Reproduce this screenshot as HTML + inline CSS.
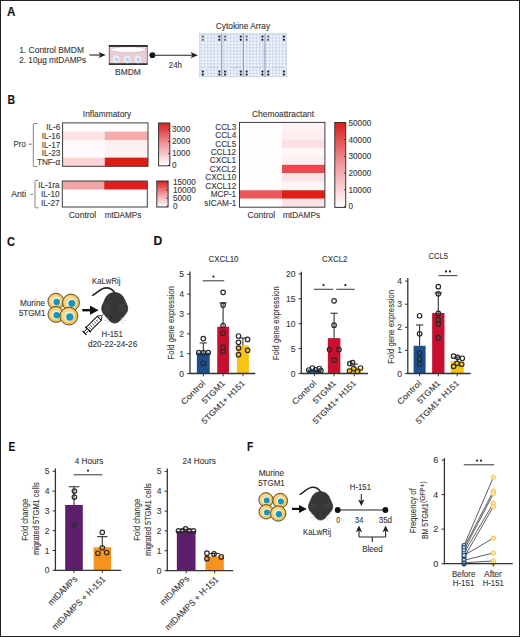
<!DOCTYPE html>
<html><head><meta charset="utf-8"><style>
html,body{margin:0;padding:0;background:#fff;}
body{width:520px;height:637px;overflow:hidden;}
svg{display:block;font-family:"Liberation Sans",sans-serif;}
text{stroke:#3a3a3a;stroke-width:0.12px;}
</style></head><body>
<svg width="520" height="637" viewBox="0 0 520 637">
<rect x="0" y="0" width="520" height="637" fill="#fff"/>
<text x="6.90" y="15.50" font-size="12.0" text-anchor="start" fill="#111" font-weight="bold" textLength="8.4" lengthAdjust="spacingAndGlyphs">A</text>
<text x="7.60" y="103.60" font-size="12.0" text-anchor="start" fill="#111" font-weight="bold" textLength="7.6" lengthAdjust="spacingAndGlyphs">B</text>
<text x="7.10" y="245.90" font-size="12.0" text-anchor="start" fill="#111" font-weight="bold" textLength="8.0" lengthAdjust="spacingAndGlyphs">C</text>
<text x="153.40" y="245.40" font-size="12.0" text-anchor="start" fill="#111" font-weight="bold" textLength="8.8" lengthAdjust="spacingAndGlyphs">D</text>
<text x="8.40" y="450.60" font-size="12.0" text-anchor="start" fill="#111" font-weight="bold" textLength="6.9" lengthAdjust="spacingAndGlyphs">E</text>
<text x="246.90" y="450.50" font-size="12.0" text-anchor="start" fill="#111" font-weight="bold" textLength="6.3" lengthAdjust="spacingAndGlyphs">F</text>
<text x="19.20" y="52.70" font-size="8.2" text-anchor="start" fill="#3a3a3a" font-weight="normal" textLength="64.8" lengthAdjust="spacingAndGlyphs">1. Control BMDM</text>
<text x="19.20" y="63.20" font-size="8.2" text-anchor="start" fill="#3a3a3a" font-weight="normal" textLength="67.0" lengthAdjust="spacingAndGlyphs">2. 10µg mtDAMPs</text>
<line x1="89.50" y1="55.00" x2="101.00" y2="55.00" stroke="#222" stroke-width="1.1"/>
<path d="M105.8,55 L98.6,51.9 L100.3,55 L98.6,58.1 Z" fill="#222"/>
<g>
<rect x="109.2" y="45.5" width="38.0" height="19" fill="#f3d5d8" stroke="#333" stroke-width="0.7"/>
<path d="M110,50 L110,62.6 L146.4,62.6 L146.4,50 Q128.2,55.5 110,50 Z" fill="#eecbce"/>
<ellipse cx="128.2" cy="49.6" rx="17.8" ry="2.9" fill="#fcfcfe" stroke="#c7a9ad" stroke-width="0.5"/>
<rect x="108.9" y="45.2" width="38.6" height="1.6" fill="#1a1a1a"/>
<rect x="108.9" y="63.3" width="38.6" height="1.4" fill="#1a1a1a"/>
<circle cx="116.2" cy="59" r="3.9" fill="#e6edf8" stroke="#c5d0e3" stroke-width="0.5"/>
<circle cx="127.1" cy="59.2" r="3.9" fill="#e6edf8" stroke="#c5d0e3" stroke-width="0.5"/>
<circle cx="137.9" cy="59.2" r="3.9" fill="#e6edf8" stroke="#c5d0e3" stroke-width="0.5"/>
<circle cx="116.6" cy="59.3" r="1.5" fill="#b9c8df"/>
<circle cx="127.5" cy="59.5" r="1.5" fill="#b9c8df"/>
<circle cx="138.3" cy="59.5" r="1.5" fill="#b9c8df"/>
</g>
<text x="115.00" y="74.70" font-size="8.2" text-anchor="start" fill="#3a3a3a" font-weight="normal" textLength="25.8" lengthAdjust="spacingAndGlyphs">BMDM</text>
<circle cx="152.40" cy="55.20" r="2.90" fill="#111" stroke="none" stroke-width="1.0"/>
<line x1="152.40" y1="55.20" x2="193.00" y2="55.20" stroke="#222" stroke-width="1.1"/>
<path d="M197.9,55.2 L190.6,52.1 L192.3,55.2 L190.6,58.3 Z" fill="#222"/>
<text x="168.80" y="68.10" font-size="8.2" text-anchor="start" fill="#3a3a3a" font-weight="normal" textLength="13.2" lengthAdjust="spacingAndGlyphs">24h</text>
<text x="215.80" y="28.70" font-size="8.2" text-anchor="start" fill="#3a3a3a" font-weight="normal" textLength="54.4" lengthAdjust="spacingAndGlyphs">Cytokine Array</text>
<defs>
<pattern id="grid" x="201.27" y="35.0" width="3.25" height="3.2" patternUnits="userSpaceOnUse">
<rect width="3.25" height="3.2" fill="#cddbee"/><circle cx="1.62" cy="1.6" r="1.12" fill="#f7faff"/>
</pattern>
</defs>
<rect x="199.50" y="33.50" width="22.30" height="43.30" fill="url(#grid)"/>
<circle cx="202.80" cy="36.60" r="1.15" fill="#55657e" stroke="none" stroke-width="1.0"/>
<circle cx="202.80" cy="39.80" r="1.15" fill="#55657e" stroke="none" stroke-width="1.0"/>
<circle cx="219.30" cy="36.60" r="1.15" fill="#1d2536" stroke="none" stroke-width="1.0"/>
<circle cx="219.30" cy="39.80" r="1.15" fill="#1d2536" stroke="none" stroke-width="1.0"/>
<circle cx="202.80" cy="71.60" r="1.15" fill="#1d2536" stroke="none" stroke-width="1.0"/>
<circle cx="202.80" cy="74.60" r="1.15" fill="#1d2536" stroke="none" stroke-width="1.0"/>
<circle cx="219.30" cy="71.60" r="1.15" fill="#1d2536" stroke="none" stroke-width="1.0"/>
<circle cx="219.30" cy="74.60" r="1.15" fill="#1d2536" stroke="none" stroke-width="1.0"/>
<rect x="208.50" y="67.00" width="10.00" height="1.00" fill="#c0ccdc"/>
<rect x="221.80" y="33.50" width="21.50" height="43.30" fill="url(#grid)"/>
<circle cx="225.10" cy="36.60" r="1.15" fill="#55657e" stroke="none" stroke-width="1.0"/>
<circle cx="225.10" cy="39.80" r="1.15" fill="#55657e" stroke="none" stroke-width="1.0"/>
<circle cx="240.80" cy="36.60" r="1.15" fill="#1d2536" stroke="none" stroke-width="1.0"/>
<circle cx="240.80" cy="39.80" r="1.15" fill="#1d2536" stroke="none" stroke-width="1.0"/>
<circle cx="225.10" cy="71.60" r="1.15" fill="#1d2536" stroke="none" stroke-width="1.0"/>
<circle cx="225.10" cy="74.60" r="1.15" fill="#1d2536" stroke="none" stroke-width="1.0"/>
<circle cx="240.80" cy="71.60" r="1.15" fill="#1d2536" stroke="none" stroke-width="1.0"/>
<circle cx="240.80" cy="74.60" r="1.15" fill="#1d2536" stroke="none" stroke-width="1.0"/>
<rect x="230.80" y="67.00" width="10.00" height="1.00" fill="#c0ccdc"/>
<rect x="243.30" y="33.50" width="21.60" height="43.30" fill="url(#grid)"/>
<circle cx="246.60" cy="36.60" r="1.15" fill="#55657e" stroke="none" stroke-width="1.0"/>
<circle cx="246.60" cy="39.80" r="1.15" fill="#55657e" stroke="none" stroke-width="1.0"/>
<circle cx="262.40" cy="36.60" r="1.15" fill="#1d2536" stroke="none" stroke-width="1.0"/>
<circle cx="262.40" cy="39.80" r="1.15" fill="#1d2536" stroke="none" stroke-width="1.0"/>
<circle cx="246.60" cy="71.60" r="1.15" fill="#1d2536" stroke="none" stroke-width="1.0"/>
<circle cx="246.60" cy="74.60" r="1.15" fill="#1d2536" stroke="none" stroke-width="1.0"/>
<circle cx="262.40" cy="71.60" r="1.15" fill="#1d2536" stroke="none" stroke-width="1.0"/>
<circle cx="262.40" cy="74.60" r="1.15" fill="#1d2536" stroke="none" stroke-width="1.0"/>
<rect x="252.30" y="67.00" width="10.00" height="1.00" fill="#c0ccdc"/>
<rect x="264.90" y="33.50" width="21.50" height="43.30" fill="url(#grid)"/>
<circle cx="268.20" cy="36.60" r="1.15" fill="#55657e" stroke="none" stroke-width="1.0"/>
<circle cx="268.20" cy="39.80" r="1.15" fill="#55657e" stroke="none" stroke-width="1.0"/>
<circle cx="283.90" cy="36.60" r="1.15" fill="#1d2536" stroke="none" stroke-width="1.0"/>
<circle cx="283.90" cy="39.80" r="1.15" fill="#1d2536" stroke="none" stroke-width="1.0"/>
<circle cx="268.20" cy="71.60" r="1.15" fill="#1d2536" stroke="none" stroke-width="1.0"/>
<circle cx="268.20" cy="74.60" r="1.15" fill="#1d2536" stroke="none" stroke-width="1.0"/>
<circle cx="283.90" cy="71.60" r="1.15" fill="#1d2536" stroke="none" stroke-width="1.0"/>
<circle cx="283.90" cy="74.60" r="1.15" fill="#1d2536" stroke="none" stroke-width="1.0"/>
<rect x="273.90" y="67.00" width="10.00" height="1.00" fill="#c0ccdc"/>
<rect x="199.50" y="33.50" width="86.90" height="43.30" fill="none" stroke="#c2cad6" stroke-width="0.6"/>
<line x1="221.80" y1="33.50" x2="221.80" y2="76.80" stroke="#55606f" stroke-width="0.6"/>
<line x1="243.30" y1="33.50" x2="243.30" y2="76.80" stroke="#55606f" stroke-width="0.6"/>
<line x1="264.90" y1="33.50" x2="264.90" y2="76.80" stroke="#55606f" stroke-width="0.6"/>
<text x="82.80" y="116.60" font-size="8.2" text-anchor="start" fill="#3a3a3a" font-weight="normal" textLength="48.5" lengthAdjust="spacingAndGlyphs">Inflammatory</text>
<text x="252.00" y="116.80" font-size="8.2" text-anchor="start" fill="#3a3a3a" font-weight="normal" textLength="62.1" lengthAdjust="spacingAndGlyphs">Chemoattractant</text>
<rect x="62.60" y="122.90" width="42.20" height="8.73" fill="#ffffff"/>
<rect x="104.80" y="122.90" width="43.20" height="8.73" fill="#fffbfb"/>
<rect x="62.60" y="131.58" width="42.20" height="8.73" fill="#fde1e4"/>
<rect x="104.80" y="131.58" width="43.20" height="8.73" fill="#f5aaae"/>
<rect x="62.60" y="140.26" width="42.20" height="8.73" fill="#fff9f9"/>
<rect x="104.80" y="140.26" width="43.20" height="8.73" fill="#fdf1f2"/>
<rect x="62.60" y="148.94" width="42.20" height="8.73" fill="#fffafa"/>
<rect x="104.80" y="148.94" width="43.20" height="8.73" fill="#fdf2f3"/>
<rect x="62.60" y="157.62" width="42.20" height="8.73" fill="#fcd3d7"/>
<rect x="104.80" y="157.62" width="43.20" height="8.73" fill="#e01b14"/>
<rect x="62.60" y="122.90" width="85.40" height="43.40" fill="none" stroke="#3c3c3c" stroke-width="1.0"/>
<text x="60.30" y="130.14" font-size="8.2" text-anchor="end" fill="#3a3a3a" font-weight="normal">IL-6</text>
<text x="60.30" y="138.82" font-size="8.2" text-anchor="end" fill="#3a3a3a" font-weight="normal">IL-16</text>
<text x="60.30" y="147.50" font-size="8.2" text-anchor="end" fill="#3a3a3a" font-weight="normal">IL-17</text>
<text x="60.30" y="156.18" font-size="8.2" text-anchor="end" fill="#3a3a3a" font-weight="normal">IL-23</text>
<text x="60.30" y="164.86" font-size="8.2" text-anchor="end" fill="#3a3a3a" font-weight="normal">TNF-α</text>
<text x="13.60" y="146.90" font-size="8.2" text-anchor="start" fill="#3a3a3a" font-weight="normal" textLength="12.2" lengthAdjust="spacingAndGlyphs">Pro</text>
<line x1="28.60" y1="144.20" x2="31.80" y2="144.20" stroke="#555" stroke-width="0.8"/>
<path d="M37.5,123.6 L34,123.6 Q33.3,123.6 33.3,124.6 L33.3,165.6 Q33.3,166.6 34,166.6 L37.5,166.6" fill="none" stroke="#666" stroke-width="0.8"/>
<rect x="62.30" y="181.00" width="41.90" height="8.72" fill="#f2a4a7"/>
<rect x="104.20" y="181.00" width="43.10" height="8.72" fill="#e11e1b"/>
<rect x="62.30" y="189.67" width="41.90" height="8.72" fill="#ffffff"/>
<rect x="104.20" y="189.67" width="43.10" height="8.72" fill="#ffffff"/>
<rect x="62.30" y="198.33" width="41.90" height="8.72" fill="#ffffff"/>
<rect x="104.20" y="198.33" width="43.10" height="8.72" fill="#ffffff"/>
<rect x="62.30" y="181.00" width="85.00" height="26.00" fill="none" stroke="#3c3c3c" stroke-width="1.0"/>
<text x="59.60" y="188.23" font-size="8.2" text-anchor="end" fill="#3a3a3a" font-weight="normal">IL-1ra</text>
<text x="59.60" y="196.90" font-size="8.2" text-anchor="end" fill="#3a3a3a" font-weight="normal">IL-10</text>
<text x="59.60" y="205.57" font-size="8.2" text-anchor="end" fill="#3a3a3a" font-weight="normal">IL-27</text>
<text x="11.20" y="197.10" font-size="8.2" text-anchor="start" fill="#3a3a3a" font-weight="normal" textLength="15.0" lengthAdjust="spacingAndGlyphs">Anti</text>
<line x1="30.60" y1="194.30" x2="33.20" y2="194.30" stroke="#555" stroke-width="0.8"/>
<path d="M38.6,180.4 L35.7,180.4 Q35,180.4 35,181.4 L35,206.8 Q35,207.8 35.7,207.8 L38.6,207.8" fill="none" stroke="#666" stroke-width="0.8"/>
<text x="68.70" y="218.30" font-size="8.2" text-anchor="start" fill="#3a3a3a" font-weight="normal" textLength="27.6" lengthAdjust="spacingAndGlyphs">Control</text>
<text x="104.70" y="218.30" font-size="8.2" text-anchor="start" fill="#3a3a3a" font-weight="normal" textLength="36.6" lengthAdjust="spacingAndGlyphs">mtDAMPs</text>
<rect x="239.50" y="122.40" width="42.50" height="8.53" fill="#fffdfd"/>
<rect x="282.00" y="122.40" width="42.90" height="8.53" fill="#fdf3f4"/>
<rect x="239.50" y="130.88" width="42.50" height="8.53" fill="#fffdfd"/>
<rect x="282.00" y="130.88" width="42.90" height="8.53" fill="#fdeff0"/>
<rect x="239.50" y="139.36" width="42.50" height="8.53" fill="#fffcfc"/>
<rect x="282.00" y="139.36" width="42.90" height="8.53" fill="#fbdfe2"/>
<rect x="239.50" y="147.84" width="42.50" height="8.53" fill="#fffdfd"/>
<rect x="282.00" y="147.84" width="42.90" height="8.53" fill="#fef7f7"/>
<rect x="239.50" y="156.32" width="42.50" height="8.53" fill="#fffdfd"/>
<rect x="282.00" y="156.32" width="42.90" height="8.53" fill="#fdf0f1"/>
<rect x="239.50" y="164.80" width="42.50" height="8.53" fill="#fffcfc"/>
<rect x="282.00" y="164.80" width="42.90" height="8.53" fill="#e94a4f"/>
<rect x="239.50" y="173.28" width="42.50" height="8.53" fill="#fffdfd"/>
<rect x="282.00" y="173.28" width="42.90" height="8.53" fill="#fbe3e5"/>
<rect x="239.50" y="181.76" width="42.50" height="8.53" fill="#fffdfd"/>
<rect x="282.00" y="181.76" width="42.90" height="8.53" fill="#fef6f6"/>
<rect x="239.50" y="190.24" width="42.50" height="8.53" fill="#eb595d"/>
<rect x="282.00" y="190.24" width="42.90" height="8.53" fill="#df1f16"/>
<rect x="239.50" y="198.72" width="42.50" height="8.53" fill="#ffffff"/>
<rect x="282.00" y="198.72" width="42.90" height="8.53" fill="#fbe2e5"/>
<rect x="239.50" y="122.40" width="85.40" height="84.80" fill="none" stroke="#3c3c3c" stroke-width="1.0"/>
<text x="236.20" y="129.54" font-size="8.2" text-anchor="end" fill="#3a3a3a" font-weight="normal">CCL3</text>
<text x="236.20" y="138.02" font-size="8.2" text-anchor="end" fill="#3a3a3a" font-weight="normal">CCL4</text>
<text x="236.20" y="146.50" font-size="8.2" text-anchor="end" fill="#3a3a3a" font-weight="normal">CCL5</text>
<text x="236.20" y="154.98" font-size="8.2" text-anchor="end" fill="#3a3a3a" font-weight="normal">CCL12</text>
<text x="236.20" y="163.46" font-size="8.2" text-anchor="end" fill="#3a3a3a" font-weight="normal">CXCL1</text>
<text x="236.20" y="171.94" font-size="8.2" text-anchor="end" fill="#3a3a3a" font-weight="normal">CXCL2</text>
<text x="236.20" y="180.42" font-size="8.2" text-anchor="end" fill="#3a3a3a" font-weight="normal">CXCL10</text>
<text x="236.20" y="188.90" font-size="8.2" text-anchor="end" fill="#3a3a3a" font-weight="normal">CXCL12</text>
<text x="236.20" y="197.38" font-size="8.2" text-anchor="end" fill="#3a3a3a" font-weight="normal">MCP-1</text>
<text x="236.20" y="205.86" font-size="8.2" text-anchor="end" fill="#3a3a3a" font-weight="normal">sICAM-1</text>
<text x="247.60" y="218.30" font-size="8.2" text-anchor="start" fill="#3a3a3a" font-weight="normal" textLength="27.6" lengthAdjust="spacingAndGlyphs">Control</text>
<text x="283.00" y="218.30" font-size="8.2" text-anchor="start" fill="#3a3a3a" font-weight="normal" textLength="37.0" lengthAdjust="spacingAndGlyphs">mtDAMPs</text>
<defs><linearGradient id="cb158" x1="0" y1="1" x2="0" y2="0"><stop offset="0" stop-color="#ffffff"/><stop offset="0.5" stop-color="#f09aa0"/><stop offset="1" stop-color="#d9201c"/></linearGradient></defs>
<rect x="158.60" y="123.00" width="11.20" height="42.80" fill="url(#cb158)" stroke="#333" stroke-width="1"/>
<line x1="168.00" y1="165.30" x2="169.80" y2="165.30" stroke="#333" stroke-width="0.9"/>
<text x="172.00" y="168.20" font-size="8.2" text-anchor="start" fill="#3a3a3a" font-weight="normal">0</text>
<line x1="168.00" y1="153.40" x2="169.80" y2="153.40" stroke="#333" stroke-width="0.9"/>
<text x="172.00" y="156.30" font-size="8.2" text-anchor="start" fill="#3a3a3a" font-weight="normal">1000</text>
<line x1="168.00" y1="141.40" x2="169.80" y2="141.40" stroke="#333" stroke-width="0.9"/>
<text x="172.00" y="144.30" font-size="8.2" text-anchor="start" fill="#3a3a3a" font-weight="normal">2000</text>
<line x1="168.00" y1="129.40" x2="169.80" y2="129.40" stroke="#333" stroke-width="0.9"/>
<text x="172.00" y="132.30" font-size="8.2" text-anchor="start" fill="#3a3a3a" font-weight="normal">3000</text>
<defs><linearGradient id="cb156" x1="0" y1="1" x2="0" y2="0"><stop offset="0" stop-color="#ffffff"/><stop offset="0.5" stop-color="#f09aa0"/><stop offset="1" stop-color="#d9201c"/></linearGradient></defs>
<rect x="156.80" y="181.00" width="11.30" height="26.00" fill="url(#cb156)" stroke="#333" stroke-width="1"/>
<line x1="166.30" y1="206.20" x2="168.10" y2="206.20" stroke="#333" stroke-width="0.9"/>
<text x="173.00" y="209.10" font-size="8.2" text-anchor="start" fill="#3a3a3a" font-weight="normal">0</text>
<line x1="166.30" y1="198.20" x2="168.10" y2="198.20" stroke="#333" stroke-width="0.9"/>
<text x="173.00" y="201.10" font-size="8.2" text-anchor="start" fill="#3a3a3a" font-weight="normal">5000</text>
<line x1="166.30" y1="190.20" x2="168.10" y2="190.20" stroke="#333" stroke-width="0.9"/>
<text x="173.00" y="193.10" font-size="8.2" text-anchor="start" fill="#3a3a3a" font-weight="normal">10000</text>
<line x1="166.30" y1="182.20" x2="168.10" y2="182.20" stroke="#333" stroke-width="0.9"/>
<text x="173.00" y="185.10" font-size="8.2" text-anchor="start" fill="#3a3a3a" font-weight="normal">15000</text>
<defs><linearGradient id="cb334" x1="0" y1="1" x2="0" y2="0"><stop offset="0" stop-color="#ffffff"/><stop offset="0.5" stop-color="#f09aa0"/><stop offset="1" stop-color="#d9201c"/></linearGradient></defs>
<rect x="334.80" y="122.50" width="10.90" height="84.90" fill="url(#cb334)" stroke="#333" stroke-width="1"/>
<line x1="343.90" y1="206.30" x2="345.70" y2="206.30" stroke="#333" stroke-width="0.9"/>
<text x="348.50" y="209.20" font-size="8.2" text-anchor="start" fill="#3a3a3a" font-weight="normal">0</text>
<line x1="343.90" y1="189.80" x2="345.70" y2="189.80" stroke="#333" stroke-width="0.9"/>
<text x="348.50" y="192.70" font-size="8.2" text-anchor="start" fill="#3a3a3a" font-weight="normal">10000</text>
<line x1="343.90" y1="173.10" x2="345.70" y2="173.10" stroke="#333" stroke-width="0.9"/>
<text x="348.50" y="176.00" font-size="8.2" text-anchor="start" fill="#3a3a3a" font-weight="normal">20000</text>
<line x1="343.90" y1="156.40" x2="345.70" y2="156.40" stroke="#333" stroke-width="0.9"/>
<text x="348.50" y="159.30" font-size="8.2" text-anchor="start" fill="#3a3a3a" font-weight="normal">30000</text>
<line x1="343.90" y1="139.60" x2="345.70" y2="139.60" stroke="#333" stroke-width="0.9"/>
<text x="348.50" y="142.50" font-size="8.2" text-anchor="start" fill="#3a3a3a" font-weight="normal">40000</text>
<line x1="343.90" y1="122.90" x2="345.70" y2="122.90" stroke="#333" stroke-width="0.9"/>
<text x="348.50" y="125.80" font-size="8.2" text-anchor="start" fill="#3a3a3a" font-weight="normal">50000</text>
<text x="20.00" y="305.70" font-size="8.2" text-anchor="start" fill="#3a3a3a" font-weight="normal" textLength="25.0" lengthAdjust="spacingAndGlyphs">Murine</text>
<text x="18.90" y="315.80" font-size="8.2" text-anchor="start" fill="#3a3a3a" font-weight="normal" textLength="26.5" lengthAdjust="spacingAndGlyphs">5TGM1</text>
<circle cx="55.9" cy="301.3" r="8.0" fill="#f3bf55" stroke="#4d432c" stroke-width="0.9"/>
<circle cx="55.50" cy="300.90" r="6.08" fill="#f9d98f"/>
<circle cx="56.30" cy="301.70" r="4.08" fill="#eef4ea"/>
<circle cx="56.70" cy="302.10" r="3.28" fill="#1796bd"/>
<circle cx="71.0" cy="302.6" r="8.5" fill="#f3bf55" stroke="#4d432c" stroke-width="0.9"/>
<circle cx="70.58" cy="302.18" r="6.46" fill="#f9d98f"/>
<circle cx="71.42" cy="303.03" r="4.33" fill="#eef4ea"/>
<circle cx="71.85" cy="303.45" r="3.48" fill="#1796bd"/>
<circle cx="56.0" cy="314.4" r="8.0" fill="#f3bf55" stroke="#4d432c" stroke-width="0.9"/>
<circle cx="55.60" cy="314.00" r="6.08" fill="#f9d98f"/>
<circle cx="56.40" cy="314.80" r="4.08" fill="#eef4ea"/>
<circle cx="56.80" cy="315.20" r="3.28" fill="#1796bd"/>
<circle cx="68.9" cy="316.1" r="8.9" fill="#f3bf55" stroke="#4d432c" stroke-width="0.9"/>
<circle cx="68.46" cy="315.66" r="6.76" fill="#f9d98f"/>
<circle cx="69.34" cy="316.55" r="4.54" fill="#eef4ea"/>
<circle cx="69.79" cy="316.99" r="3.65" fill="#1796bd"/>
<line x1="82.30" y1="310.20" x2="92.00" y2="310.20" stroke="#111" stroke-width="2.4"/>
<path d="M90,305.6 L98.6,310.2 L90,314.8 Z" fill="#111"/>
<text x="92.10" y="284.20" font-size="8.2" text-anchor="start" fill="#3a3a3a" font-weight="normal" textLength="28.3" lengthAdjust="spacingAndGlyphs">KaLwRij</text>
<g transform="translate(114.7,292.6) scale(1.0)">
<path d="M-22.1,2.8 C-18,0.8 -14,-4.6 -8.5,-4.7 C-4.5,-4.7 -1.6,-2.6 0.4,0.8" fill="none" stroke="#262626" stroke-width="1.6" stroke-linecap="round"/>
<path d="M0,0 C5,0 8.5,3 10,7.5 C11.5,11 13.2,13.5 13,16.5 C12.8,19 11.5,21 10,22.3 C8,24.5 5.5,28.5 2.5,30 C1.5,30.6 -1.5,30.6 -2.5,30 C-5.5,28.5 -8,24.5 -10,22.3 C-11.5,21 -12.8,19 -13,16.5 C-13.2,13.5 -11.5,11 -10,7.5 C-8.5,3 -5,0 0,0 Z" fill="#373737" stroke="#242424" stroke-width="0.7"/>
<ellipse cx="-7.4" cy="15.6" rx="3.6" ry="4.2" fill="#3d3d3d"/><ellipse cx="7.3" cy="15.4" rx="3.6" ry="4.2" fill="#3d3d3d"/>
<circle cx="-3.4" cy="24.2" r="0.8" fill="#1a1a1a"/><circle cx="3.2" cy="24.2" r="0.8" fill="#1a1a1a"/>
<path d="M-6,26 L-10.5,24.3 M-6,27 L-11,28 M-5.5,28 L-9,31.5 M6,26 L10.5,24.3 M6,27 L11,28 M5.5,28 L9,31.5" stroke="#b5b5b5" stroke-width="0.5"/>
</g>
<g transform="translate(103.2,314.3) rotate(135)">
<line x1="0" y1="0" x2="3" y2="0" stroke="#1a1a1a" stroke-width="0.9"/>
<path d="M2.6,-0.9 L5.6,-2.8 L5.6,2.8 L2.6,0.9 Z" fill="#fff" stroke="#1a1a1a" stroke-width="0.9" stroke-linejoin="round"/>
<rect x="5.6" y="-2.8" width="15.9" height="5.6" fill="#fff" stroke="#1a1a1a" stroke-width="1.0"/>
<path d="M9,-1.6 v3 M11.6,-1.6 v3 M14.2,-1.6 v3 M16.8,-1.6 v3 M19.2,-1.6 v3" stroke="#1a1a1a" stroke-width="0.75"/>
<line x1="21.5" y1="-3.9" x2="21.5" y2="3.9" stroke="#1a1a1a" stroke-width="1.2"/>
<rect x="21.5" y="-1.2" width="4.9" height="2.4" fill="#fff" stroke="#1a1a1a" stroke-width="0.9"/>
<line x1="26.4" y1="-2.7" x2="26.4" y2="2.7" stroke="#1a1a1a" stroke-width="1.4"/>
</g>
<text x="101.50" y="337.00" font-size="8.2" text-anchor="start" fill="#3a3a3a" font-weight="normal" textLength="21.3" lengthAdjust="spacingAndGlyphs">H-151</text>
<text x="88.00" y="346.50" font-size="8.2" text-anchor="start" fill="#3a3a3a" font-weight="normal" textLength="49.2" lengthAdjust="spacingAndGlyphs">d20-22-24-26</text>
<text x="208.50" y="262.20" font-size="8.2" text-anchor="start" fill="#3a3a3a" font-weight="normal" textLength="30.0" lengthAdjust="spacingAndGlyphs">CXCL10</text>
<rect x="196.85" y="352.67" width="12.90" height="20.83" fill="#1c4f8b"/>
<rect x="217.25" y="326.68" width="11.70" height="46.82" fill="#c8102e"/>
<rect x="236.90" y="345.53" width="12.00" height="27.97" fill="#f6c413"/>
<line x1="203.30" y1="352.67" x2="203.30" y2="342.95" stroke="#333" stroke-width="1.1"/>
<line x1="199.70" y1="342.95" x2="206.90" y2="342.95" stroke="#333" stroke-width="1.1"/>
<line x1="223.10" y1="326.68" x2="223.10" y2="302.87" stroke="#333" stroke-width="1.1"/>
<line x1="219.50" y1="302.87" x2="226.70" y2="302.87" stroke="#333" stroke-width="1.1"/>
<line x1="242.90" y1="345.53" x2="242.90" y2="337.99" stroke="#333" stroke-width="1.1"/>
<line x1="239.30" y1="337.99" x2="246.50" y2="337.99" stroke="#333" stroke-width="1.1"/>
<circle cx="203.30" cy="338.58" r="2.25" fill="none" stroke="#2a2a2a" stroke-width="1.2"/>
<circle cx="198.80" cy="352.67" r="2.25" fill="none" stroke="#2a2a2a" stroke-width="1.2"/>
<circle cx="203.30" cy="352.67" r="2.25" fill="none" stroke="#2a2a2a" stroke-width="1.2"/>
<circle cx="208.20" cy="352.67" r="2.25" fill="none" stroke="#2a2a2a" stroke-width="1.2"/>
<circle cx="203.30" cy="363.38" r="2.25" fill="none" stroke="#2a2a2a" stroke-width="1.2"/>
<circle cx="223.10" cy="292.35" r="2.25" fill="none" stroke="#2a2a2a" stroke-width="1.2"/>
<circle cx="223.10" cy="305.05" r="2.25" fill="none" stroke="#2a2a2a" stroke-width="1.2"/>
<circle cx="223.10" cy="325.49" r="2.25" fill="none" stroke="#2a2a2a" stroke-width="1.2"/>
<circle cx="223.10" cy="333.22" r="2.25" fill="none" stroke="#2a2a2a" stroke-width="1.2"/>
<circle cx="223.10" cy="347.31" r="2.25" fill="none" stroke="#2a2a2a" stroke-width="1.2"/>
<circle cx="223.10" cy="351.48" r="2.25" fill="none" stroke="#2a2a2a" stroke-width="1.2"/>
<circle cx="238.50" cy="336.00" r="2.25" fill="none" stroke="#2a2a2a" stroke-width="1.2"/>
<circle cx="247.60" cy="339.38" r="2.25" fill="none" stroke="#2a2a2a" stroke-width="1.2"/>
<circle cx="238.50" cy="342.35" r="2.25" fill="none" stroke="#2a2a2a" stroke-width="1.2"/>
<circle cx="238.50" cy="348.10" r="2.25" fill="none" stroke="#2a2a2a" stroke-width="1.2"/>
<circle cx="247.60" cy="350.29" r="2.25" fill="none" stroke="#2a2a2a" stroke-width="1.2"/>
<circle cx="238.50" cy="354.65" r="2.25" fill="none" stroke="#2a2a2a" stroke-width="1.2"/>
<line x1="190.00" y1="271.50" x2="190.00" y2="374.10" stroke="#333" stroke-width="1.3"/>
<line x1="189.40" y1="373.50" x2="255.40" y2="373.50" stroke="#333" stroke-width="1.3"/>
<line x1="187.20" y1="373.50" x2="190.00" y2="373.50" stroke="#333" stroke-width="1.0"/>
<text x="184.10" y="376.50" font-size="8.5" text-anchor="end" fill="#3a3a3a" font-weight="normal">0</text>
<line x1="187.20" y1="353.66" x2="190.00" y2="353.66" stroke="#333" stroke-width="1.0"/>
<text x="184.10" y="356.66" font-size="8.5" text-anchor="end" fill="#3a3a3a" font-weight="normal">1</text>
<line x1="187.20" y1="333.82" x2="190.00" y2="333.82" stroke="#333" stroke-width="1.0"/>
<text x="184.10" y="336.82" font-size="8.5" text-anchor="end" fill="#3a3a3a" font-weight="normal">2</text>
<line x1="187.20" y1="313.98" x2="190.00" y2="313.98" stroke="#333" stroke-width="1.0"/>
<text x="184.10" y="316.98" font-size="8.5" text-anchor="end" fill="#3a3a3a" font-weight="normal">3</text>
<line x1="187.20" y1="294.14" x2="190.00" y2="294.14" stroke="#333" stroke-width="1.0"/>
<text x="184.10" y="297.14" font-size="8.5" text-anchor="end" fill="#3a3a3a" font-weight="normal">4</text>
<line x1="187.20" y1="274.30" x2="190.00" y2="274.30" stroke="#333" stroke-width="1.0"/>
<text x="184.10" y="277.30" font-size="8.5" text-anchor="end" fill="#3a3a3a" font-weight="normal">5</text>
<line x1="203.30" y1="373.50" x2="203.30" y2="376.30" stroke="#333" stroke-width="1.0"/>
<line x1="223.10" y1="373.50" x2="223.10" y2="376.30" stroke="#333" stroke-width="1.0"/>
<line x1="242.90" y1="373.50" x2="242.90" y2="376.30" stroke="#333" stroke-width="1.0"/>
<line x1="202.60" y1="280.80" x2="224.20" y2="280.80" stroke="#444" stroke-width="1.1"/>
<circle cx="213.40" cy="276.60" r="1.15" fill="#262626" stroke="none" stroke-width="1.0"/>
<text x="0" y="0" font-size="9.9" text-anchor="middle" fill="#3a3a3a" textLength="73.5" lengthAdjust="spacingAndGlyphs" transform="translate(174.00,322.70) rotate(-90)">Fold gene expression</text>
<text x="0" y="0" font-size="8.2" text-anchor="end" fill="#3a3a3a" textLength="30.5" lengthAdjust="spacingAndGlyphs" transform="translate(205.70,383.80) rotate(-45)">Control</text>
<text x="0" y="0" font-size="8.2" text-anchor="end" fill="#3a3a3a" textLength="29.0" lengthAdjust="spacingAndGlyphs" transform="translate(225.50,383.80) rotate(-45)">5TGM1</text>
<text x="0" y="0" font-size="8.2" text-anchor="end" fill="#3a3a3a" textLength="57.5" lengthAdjust="spacingAndGlyphs" transform="translate(245.40,383.80) rotate(-45)">5TGM1+ H151</text>
<text x="322.00" y="262.20" font-size="8.2" text-anchor="start" fill="#3a3a3a" font-weight="normal" textLength="25.4" lengthAdjust="spacingAndGlyphs">CXCL2</text>
<rect x="307.50" y="369.52" width="13.80" height="3.98" fill="#1c4f8b"/>
<rect x="327.85" y="338.14" width="12.50" height="35.36" fill="#c8102e"/>
<rect x="347.55" y="367.92" width="13.50" height="5.58" fill="#f6c413"/>
<line x1="334.10" y1="338.14" x2="334.10" y2="313.24" stroke="#333" stroke-width="1.1"/>
<line x1="330.50" y1="313.24" x2="337.70" y2="313.24" stroke="#333" stroke-width="1.1"/>
<line x1="354.30" y1="367.92" x2="354.30" y2="364.04" stroke="#333" stroke-width="1.1"/>
<line x1="350.70" y1="364.04" x2="357.90" y2="364.04" stroke="#333" stroke-width="1.1"/>
<circle cx="308.80" cy="370.01" r="2.25" fill="none" stroke="#2a2a2a" stroke-width="1.2"/>
<circle cx="312.40" cy="368.02" r="2.25" fill="none" stroke="#2a2a2a" stroke-width="1.2"/>
<circle cx="315.60" cy="369.76" r="2.25" fill="none" stroke="#2a2a2a" stroke-width="1.2"/>
<circle cx="319.40" cy="368.52" r="2.25" fill="none" stroke="#2a2a2a" stroke-width="1.2"/>
<circle cx="320.90" cy="370.51" r="2.25" fill="none" stroke="#2a2a2a" stroke-width="1.2"/>
<circle cx="334.10" cy="300.79" r="2.25" fill="none" stroke="#2a2a2a" stroke-width="1.2"/>
<circle cx="334.10" cy="325.19" r="2.25" fill="none" stroke="#2a2a2a" stroke-width="1.2"/>
<circle cx="329.50" cy="349.60" r="2.25" fill="none" stroke="#2a2a2a" stroke-width="1.2"/>
<circle cx="339.00" cy="349.60" r="2.25" fill="none" stroke="#2a2a2a" stroke-width="1.2"/>
<circle cx="334.10" cy="360.05" r="2.25" fill="none" stroke="#2a2a2a" stroke-width="1.2"/>
<circle cx="349.80" cy="363.54" r="2.25" fill="none" stroke="#2a2a2a" stroke-width="1.2"/>
<circle cx="352.50" cy="362.54" r="2.25" fill="none" stroke="#2a2a2a" stroke-width="1.2"/>
<circle cx="349.50" cy="371.01" r="2.25" fill="none" stroke="#2a2a2a" stroke-width="1.2"/>
<circle cx="353.80" cy="368.52" r="2.25" fill="none" stroke="#2a2a2a" stroke-width="1.2"/>
<circle cx="357.50" cy="371.51" r="2.25" fill="none" stroke="#2a2a2a" stroke-width="1.2"/>
<circle cx="360.50" cy="368.02" r="2.25" fill="none" stroke="#2a2a2a" stroke-width="1.2"/>
<line x1="301.30" y1="271.80" x2="301.30" y2="374.10" stroke="#333" stroke-width="1.3"/>
<line x1="300.70" y1="373.50" x2="368.00" y2="373.50" stroke="#333" stroke-width="1.3"/>
<line x1="298.50" y1="373.50" x2="301.30" y2="373.50" stroke="#333" stroke-width="1.0"/>
<text x="295.40" y="376.50" font-size="8.5" text-anchor="end" fill="#3a3a3a" font-weight="normal">0</text>
<line x1="298.50" y1="348.60" x2="301.30" y2="348.60" stroke="#333" stroke-width="1.0"/>
<text x="295.40" y="351.60" font-size="8.5" text-anchor="end" fill="#3a3a3a" font-weight="normal">5</text>
<line x1="298.50" y1="323.70" x2="301.30" y2="323.70" stroke="#333" stroke-width="1.0"/>
<text x="295.40" y="326.70" font-size="8.5" text-anchor="end" fill="#3a3a3a" font-weight="normal">10</text>
<line x1="298.50" y1="298.80" x2="301.30" y2="298.80" stroke="#333" stroke-width="1.0"/>
<text x="295.40" y="301.80" font-size="8.5" text-anchor="end" fill="#3a3a3a" font-weight="normal">15</text>
<line x1="298.50" y1="273.90" x2="301.30" y2="273.90" stroke="#333" stroke-width="1.0"/>
<text x="295.40" y="276.90" font-size="8.5" text-anchor="end" fill="#3a3a3a" font-weight="normal">20</text>
<line x1="314.40" y1="373.50" x2="314.40" y2="376.30" stroke="#333" stroke-width="1.0"/>
<line x1="334.10" y1="373.50" x2="334.10" y2="376.30" stroke="#333" stroke-width="1.0"/>
<line x1="354.30" y1="373.50" x2="354.30" y2="376.30" stroke="#333" stroke-width="1.0"/>
<line x1="313.80" y1="289.30" x2="333.20" y2="289.30" stroke="#444" stroke-width="1.1"/>
<circle cx="323.50" cy="285.10" r="1.15" fill="#262626" stroke="none" stroke-width="1.0"/>
<line x1="336.20" y1="289.30" x2="354.60" y2="289.30" stroke="#444" stroke-width="1.1"/>
<circle cx="345.40" cy="285.10" r="1.15" fill="#262626" stroke="none" stroke-width="1.0"/>
<text x="0" y="0" font-size="9.9" text-anchor="middle" fill="#3a3a3a" textLength="74.0" lengthAdjust="spacingAndGlyphs" transform="translate(279.20,323.20) rotate(-90)">Fold gene expression</text>
<text x="0" y="0" font-size="8.2" text-anchor="end" fill="#3a3a3a" textLength="30.5" lengthAdjust="spacingAndGlyphs" transform="translate(316.80,383.80) rotate(-45)">Control</text>
<text x="0" y="0" font-size="8.2" text-anchor="end" fill="#3a3a3a" textLength="29.0" lengthAdjust="spacingAndGlyphs" transform="translate(336.50,383.80) rotate(-45)">5TGM1</text>
<text x="0" y="0" font-size="8.2" text-anchor="end" fill="#3a3a3a" textLength="57.5" lengthAdjust="spacingAndGlyphs" transform="translate(356.70,383.80) rotate(-45)">5TGM1+ H151</text>
<text x="428.50" y="258.60" font-size="8.2" text-anchor="start" fill="#3a3a3a" font-weight="normal" textLength="19.6" lengthAdjust="spacingAndGlyphs">CCL5</text>
<rect x="413.60" y="345.78" width="12.00" height="27.72" fill="#1c4f8b"/>
<rect x="432.15" y="312.98" width="12.30" height="60.52" fill="#c8102e"/>
<rect x="450.70" y="361.26" width="13.00" height="12.24" fill="#f6c413"/>
<line x1="419.60" y1="345.78" x2="419.60" y2="324.99" stroke="#333" stroke-width="1.1"/>
<line x1="416.00" y1="324.99" x2="423.20" y2="324.99" stroke="#333" stroke-width="1.1"/>
<line x1="438.30" y1="312.98" x2="438.30" y2="292.88" stroke="#333" stroke-width="1.1"/>
<line x1="434.70" y1="292.88" x2="441.90" y2="292.88" stroke="#333" stroke-width="1.1"/>
<line x1="457.20" y1="361.26" x2="457.20" y2="357.10" stroke="#333" stroke-width="1.1"/>
<line x1="453.60" y1="357.10" x2="460.80" y2="357.10" stroke="#333" stroke-width="1.1"/>
<circle cx="419.60" cy="315.75" r="2.25" fill="none" stroke="#2a2a2a" stroke-width="1.2"/>
<circle cx="419.60" cy="333.77" r="2.25" fill="none" stroke="#2a2a2a" stroke-width="1.2"/>
<circle cx="419.60" cy="353.17" r="2.25" fill="none" stroke="#2a2a2a" stroke-width="1.2"/>
<circle cx="419.60" cy="359.18" r="2.25" fill="none" stroke="#2a2a2a" stroke-width="1.2"/>
<circle cx="419.60" cy="364.26" r="2.25" fill="none" stroke="#2a2a2a" stroke-width="1.2"/>
<circle cx="438.30" cy="286.64" r="2.25" fill="none" stroke="#2a2a2a" stroke-width="1.2"/>
<circle cx="438.30" cy="293.81" r="2.25" fill="none" stroke="#2a2a2a" stroke-width="1.2"/>
<circle cx="438.30" cy="313.44" r="2.25" fill="none" stroke="#2a2a2a" stroke-width="1.2"/>
<circle cx="438.30" cy="319.45" r="2.25" fill="none" stroke="#2a2a2a" stroke-width="1.2"/>
<circle cx="438.30" cy="324.07" r="2.25" fill="none" stroke="#2a2a2a" stroke-width="1.2"/>
<circle cx="438.30" cy="337.69" r="2.25" fill="none" stroke="#2a2a2a" stroke-width="1.2"/>
<circle cx="453.60" cy="356.18" r="2.25" fill="none" stroke="#2a2a2a" stroke-width="1.2"/>
<circle cx="457.60" cy="357.33" r="2.25" fill="none" stroke="#2a2a2a" stroke-width="1.2"/>
<circle cx="462.30" cy="358.25" r="2.25" fill="none" stroke="#2a2a2a" stroke-width="1.2"/>
<circle cx="453.60" cy="366.34" r="2.25" fill="none" stroke="#2a2a2a" stroke-width="1.2"/>
<circle cx="457.00" cy="363.34" r="2.25" fill="none" stroke="#2a2a2a" stroke-width="1.2"/>
<circle cx="461.70" cy="364.26" r="2.25" fill="none" stroke="#2a2a2a" stroke-width="1.2"/>
<line x1="407.80" y1="278.10" x2="407.80" y2="374.10" stroke="#333" stroke-width="1.3"/>
<line x1="407.20" y1="373.50" x2="470.70" y2="373.50" stroke="#333" stroke-width="1.3"/>
<line x1="405.00" y1="373.50" x2="407.80" y2="373.50" stroke="#333" stroke-width="1.0"/>
<text x="401.90" y="376.50" font-size="8.5" text-anchor="end" fill="#3a3a3a" font-weight="normal">0</text>
<line x1="405.00" y1="350.40" x2="407.80" y2="350.40" stroke="#333" stroke-width="1.0"/>
<text x="401.90" y="353.40" font-size="8.5" text-anchor="end" fill="#3a3a3a" font-weight="normal">1</text>
<line x1="405.00" y1="327.30" x2="407.80" y2="327.30" stroke="#333" stroke-width="1.0"/>
<text x="401.90" y="330.30" font-size="8.5" text-anchor="end" fill="#3a3a3a" font-weight="normal">2</text>
<line x1="405.00" y1="304.20" x2="407.80" y2="304.20" stroke="#333" stroke-width="1.0"/>
<text x="401.90" y="307.20" font-size="8.5" text-anchor="end" fill="#3a3a3a" font-weight="normal">3</text>
<line x1="405.00" y1="281.10" x2="407.80" y2="281.10" stroke="#333" stroke-width="1.0"/>
<text x="401.90" y="284.10" font-size="8.5" text-anchor="end" fill="#3a3a3a" font-weight="normal">4</text>
<line x1="419.60" y1="373.50" x2="419.60" y2="376.30" stroke="#333" stroke-width="1.0"/>
<line x1="438.30" y1="373.50" x2="438.30" y2="376.30" stroke="#333" stroke-width="1.0"/>
<line x1="457.20" y1="373.50" x2="457.20" y2="376.30" stroke="#333" stroke-width="1.0"/>
<line x1="438.50" y1="275.60" x2="457.40" y2="275.60" stroke="#444" stroke-width="1.1"/>
<circle cx="445.95" cy="271.40" r="1.15" fill="#262626" stroke="none" stroke-width="1.0"/>
<circle cx="449.95" cy="271.40" r="1.15" fill="#262626" stroke="none" stroke-width="1.0"/>
<text x="0" y="0" font-size="9.9" text-anchor="middle" fill="#3a3a3a" textLength="74.0" lengthAdjust="spacingAndGlyphs" transform="translate(394.30,326.80) rotate(-90)">Fold gene expression</text>
<text x="0" y="0" font-size="8.2" text-anchor="end" fill="#3a3a3a" textLength="30.5" lengthAdjust="spacingAndGlyphs" transform="translate(422.00,383.80) rotate(-45)">Control</text>
<text x="0" y="0" font-size="8.2" text-anchor="end" fill="#3a3a3a" textLength="29.0" lengthAdjust="spacingAndGlyphs" transform="translate(440.70,383.80) rotate(-45)">5TGM1</text>
<text x="0" y="0" font-size="8.2" text-anchor="end" fill="#3a3a3a" textLength="57.5" lengthAdjust="spacingAndGlyphs" transform="translate(459.60,383.80) rotate(-45)">5TGM1+ H151</text>
<text x="74.80" y="463.90" font-size="8.2" text-anchor="start" fill="#3a3a3a" font-weight="normal" textLength="28.6" lengthAdjust="spacingAndGlyphs">4 Hours</text>
<rect x="65.20" y="504.96" width="17.60" height="65.34" fill="#5d1f6b"/>
<rect x="93.60" y="547.33" width="17.40" height="22.97" fill="#f6921e"/>
<line x1="74.00" y1="504.96" x2="74.00" y2="486.74" stroke="#333" stroke-width="1.1"/>
<line x1="68.80" y1="486.74" x2="79.20" y2="486.74" stroke="#333" stroke-width="1.1"/>
<line x1="102.30" y1="547.33" x2="102.30" y2="536.64" stroke="#333" stroke-width="1.1"/>
<line x1="97.10" y1="536.64" x2="107.50" y2="536.64" stroke="#333" stroke-width="1.1"/>
<circle cx="74.40" cy="491.10" r="2.25" fill="none" stroke="#2a2a2a" stroke-width="1.2"/>
<circle cx="74.40" cy="497.04" r="2.25" fill="none" stroke="#2a2a2a" stroke-width="1.2"/>
<circle cx="74.40" cy="525.35" r="2.25" fill="none" stroke="#2a2a2a" stroke-width="1.2"/>
<circle cx="102.30" cy="532.28" r="2.25" fill="none" stroke="#2a2a2a" stroke-width="1.2"/>
<circle cx="102.30" cy="547.73" r="2.25" fill="none" stroke="#2a2a2a" stroke-width="1.2"/>
<circle cx="97.90" cy="553.27" r="2.25" fill="none" stroke="#2a2a2a" stroke-width="1.2"/>
<circle cx="106.70" cy="552.48" r="2.25" fill="none" stroke="#2a2a2a" stroke-width="1.2"/>
<line x1="55.40" y1="468.50" x2="55.40" y2="570.90" stroke="#333" stroke-width="1.3"/>
<line x1="54.80" y1="570.30" x2="121.20" y2="570.30" stroke="#333" stroke-width="1.3"/>
<line x1="52.60" y1="570.30" x2="55.40" y2="570.30" stroke="#333" stroke-width="1.0"/>
<text x="49.50" y="573.30" font-size="8.5" text-anchor="end" fill="#3a3a3a" font-weight="normal">0</text>
<line x1="52.60" y1="550.50" x2="55.40" y2="550.50" stroke="#333" stroke-width="1.0"/>
<text x="49.50" y="553.50" font-size="8.5" text-anchor="end" fill="#3a3a3a" font-weight="normal">1</text>
<line x1="52.60" y1="530.70" x2="55.40" y2="530.70" stroke="#333" stroke-width="1.0"/>
<text x="49.50" y="533.70" font-size="8.5" text-anchor="end" fill="#3a3a3a" font-weight="normal">2</text>
<line x1="52.60" y1="510.90" x2="55.40" y2="510.90" stroke="#333" stroke-width="1.0"/>
<text x="49.50" y="513.90" font-size="8.5" text-anchor="end" fill="#3a3a3a" font-weight="normal">3</text>
<line x1="52.60" y1="491.10" x2="55.40" y2="491.10" stroke="#333" stroke-width="1.0"/>
<text x="49.50" y="494.10" font-size="8.5" text-anchor="end" fill="#3a3a3a" font-weight="normal">4</text>
<line x1="52.60" y1="471.30" x2="55.40" y2="471.30" stroke="#333" stroke-width="1.0"/>
<text x="49.50" y="474.30" font-size="8.5" text-anchor="end" fill="#3a3a3a" font-weight="normal">5</text>
<line x1="74.00" y1="570.30" x2="74.00" y2="573.10" stroke="#333" stroke-width="1.0"/>
<line x1="102.30" y1="570.30" x2="102.30" y2="573.10" stroke="#333" stroke-width="1.0"/>
<line x1="73.70" y1="474.80" x2="102.30" y2="474.80" stroke="#444" stroke-width="1.1"/>
<circle cx="88.00" cy="470.60" r="1.15" fill="#262626" stroke="none" stroke-width="1.0"/>
<text x="0" y="0" font-size="9.9" text-anchor="middle" fill="#3a3a3a" textLength="42.0" lengthAdjust="spacingAndGlyphs" transform="translate(28.30,519.70) rotate(-90)">Fold change</text>
<text x="0" y="0" font-size="9.9" text-anchor="middle" fill="#3a3a3a" textLength="72.8" lengthAdjust="spacingAndGlyphs" transform="translate(39.00,518.70) rotate(-90)">migrated 5TGM1 cells</text>
<text x="0" y="0" font-size="9.0" text-anchor="end" fill="#3a3a3a" textLength="37.5" lengthAdjust="spacingAndGlyphs" transform="translate(78.00,579.50) rotate(-45)">mtDAMPs</text>
<text x="0" y="0" font-size="9.0" text-anchor="end" fill="#3a3a3a" textLength="71.5" lengthAdjust="spacingAndGlyphs" transform="translate(106.00,580.00) rotate(-45)">mtDAMPS + H-151</text>
<text x="182.40" y="464.00" font-size="8.2" text-anchor="start" fill="#3a3a3a" font-weight="normal" textLength="33.4" lengthAdjust="spacingAndGlyphs">24 Hours</text>
<rect x="176.85" y="530.92" width="18.70" height="39.68" fill="#5d1f6b"/>
<rect x="205.40" y="556.32" width="18.40" height="14.28" fill="#f6921e"/>
<line x1="186.20" y1="530.92" x2="186.20" y2="529.33" stroke="#333" stroke-width="1.1"/>
<line x1="181.00" y1="529.33" x2="191.40" y2="529.33" stroke="#333" stroke-width="1.1"/>
<line x1="214.60" y1="556.32" x2="214.60" y2="553.54" stroke="#333" stroke-width="1.1"/>
<line x1="209.40" y1="553.54" x2="219.80" y2="553.54" stroke="#333" stroke-width="1.1"/>
<circle cx="178.50" cy="530.92" r="2.25" fill="none" stroke="#2a2a2a" stroke-width="1.2"/>
<circle cx="182.50" cy="530.92" r="2.25" fill="none" stroke="#2a2a2a" stroke-width="1.2"/>
<circle cx="185.60" cy="528.94" r="2.25" fill="none" stroke="#2a2a2a" stroke-width="1.2"/>
<circle cx="189.40" cy="530.92" r="2.25" fill="none" stroke="#2a2a2a" stroke-width="1.2"/>
<circle cx="193.50" cy="530.92" r="2.25" fill="none" stroke="#2a2a2a" stroke-width="1.2"/>
<circle cx="206.90" cy="553.14" r="2.25" fill="none" stroke="#2a2a2a" stroke-width="1.2"/>
<circle cx="214.00" cy="553.93" r="2.25" fill="none" stroke="#2a2a2a" stroke-width="1.2"/>
<circle cx="206.90" cy="558.70" r="2.25" fill="none" stroke="#2a2a2a" stroke-width="1.2"/>
<circle cx="221.30" cy="556.91" r="2.25" fill="none" stroke="#2a2a2a" stroke-width="1.2"/>
<line x1="167.30" y1="468.50" x2="167.30" y2="571.20" stroke="#333" stroke-width="1.3"/>
<line x1="166.70" y1="570.60" x2="233.20" y2="570.60" stroke="#333" stroke-width="1.3"/>
<line x1="164.50" y1="570.60" x2="167.30" y2="570.60" stroke="#333" stroke-width="1.0"/>
<text x="161.40" y="573.60" font-size="8.5" text-anchor="end" fill="#3a3a3a" font-weight="normal">0</text>
<line x1="164.50" y1="550.76" x2="167.30" y2="550.76" stroke="#333" stroke-width="1.0"/>
<text x="161.40" y="553.76" font-size="8.5" text-anchor="end" fill="#3a3a3a" font-weight="normal">1</text>
<line x1="164.50" y1="530.92" x2="167.30" y2="530.92" stroke="#333" stroke-width="1.0"/>
<text x="161.40" y="533.92" font-size="8.5" text-anchor="end" fill="#3a3a3a" font-weight="normal">2</text>
<line x1="164.50" y1="511.08" x2="167.30" y2="511.08" stroke="#333" stroke-width="1.0"/>
<text x="161.40" y="514.08" font-size="8.5" text-anchor="end" fill="#3a3a3a" font-weight="normal">3</text>
<line x1="164.50" y1="491.24" x2="167.30" y2="491.24" stroke="#333" stroke-width="1.0"/>
<text x="161.40" y="494.24" font-size="8.5" text-anchor="end" fill="#3a3a3a" font-weight="normal">4</text>
<line x1="164.50" y1="471.40" x2="167.30" y2="471.40" stroke="#333" stroke-width="1.0"/>
<text x="161.40" y="474.40" font-size="8.5" text-anchor="end" fill="#3a3a3a" font-weight="normal">5</text>
<line x1="186.20" y1="570.60" x2="186.20" y2="573.40" stroke="#333" stroke-width="1.0"/>
<line x1="214.60" y1="570.60" x2="214.60" y2="573.40" stroke="#333" stroke-width="1.0"/>
<text x="0" y="0" font-size="9.9" text-anchor="middle" fill="#3a3a3a" textLength="42.0" lengthAdjust="spacingAndGlyphs" transform="translate(139.60,519.70) rotate(-90)">Fold change</text>
<text x="0" y="0" font-size="9.9" text-anchor="middle" fill="#3a3a3a" textLength="72.8" lengthAdjust="spacingAndGlyphs" transform="translate(151.20,519.60) rotate(-90)">migrated 5TGM1 cells</text>
<text x="0" y="0" font-size="9.0" text-anchor="end" fill="#3a3a3a" textLength="38.0" lengthAdjust="spacingAndGlyphs" transform="translate(190.00,579.20) rotate(-45)">mtDAMPs</text>
<text x="0" y="0" font-size="9.0" text-anchor="end" fill="#3a3a3a" textLength="71.5" lengthAdjust="spacingAndGlyphs" transform="translate(219.00,580.20) rotate(-45)">mtDAMPS + H-151</text>
<text x="258.70" y="476.30" font-size="8.2" text-anchor="start" fill="#3a3a3a" font-weight="normal" textLength="25.4" lengthAdjust="spacingAndGlyphs">Murine</text>
<text x="258.20" y="486.40" font-size="8.2" text-anchor="start" fill="#3a3a3a" font-weight="normal" textLength="26.5" lengthAdjust="spacingAndGlyphs">5TGM1</text>
<circle cx="266" cy="499.8" r="7.2" fill="#f3bf55" stroke="#4d432c" stroke-width="0.9"/>
<circle cx="265.64" cy="499.44" r="5.47" fill="#f9d98f"/>
<circle cx="266.36" cy="500.16" r="3.67" fill="#eef4ea"/>
<circle cx="266.72" cy="500.52" r="2.95" fill="#1796bd"/>
<circle cx="280.2" cy="500.7" r="7.4" fill="#f3bf55" stroke="#4d432c" stroke-width="0.9"/>
<circle cx="279.83" cy="500.33" r="5.62" fill="#f9d98f"/>
<circle cx="280.57" cy="501.07" r="3.77" fill="#eef4ea"/>
<circle cx="280.94" cy="501.44" r="3.03" fill="#1796bd"/>
<circle cx="266.2" cy="511.8" r="7.2" fill="#f3bf55" stroke="#4d432c" stroke-width="0.9"/>
<circle cx="265.84" cy="511.44" r="5.47" fill="#f9d98f"/>
<circle cx="266.56" cy="512.16" r="3.67" fill="#eef4ea"/>
<circle cx="266.92" cy="512.52" r="2.95" fill="#1796bd"/>
<circle cx="278.2" cy="513.5" r="7.7" fill="#f3bf55" stroke="#4d432c" stroke-width="0.9"/>
<circle cx="277.81" cy="513.12" r="5.85" fill="#f9d98f"/>
<circle cx="278.58" cy="513.88" r="3.93" fill="#eef4ea"/>
<circle cx="278.97" cy="514.27" r="3.16" fill="#1796bd"/>
<line x1="291.90" y1="508.90" x2="300.00" y2="508.90" stroke="#111" stroke-width="2.2"/>
<path d="M299,504.9 L306.8,508.9 L299,512.9 Z" fill="#111"/>
<g transform="translate(320.6,491.7) scale(0.93)">
<path d="M-22.1,2.8 C-18,0.8 -14,-4.6 -8.5,-4.7 C-4.5,-4.7 -1.6,-2.6 0.4,0.8" fill="none" stroke="#262626" stroke-width="1.6" stroke-linecap="round"/>
<path d="M0,0 C5,0 8.5,3 10,7.5 C11.5,11 13.2,13.5 13,16.5 C12.8,19 11.5,21 10,22.3 C8,24.5 5.5,28.5 2.5,30 C1.5,30.6 -1.5,30.6 -2.5,30 C-5.5,28.5 -8,24.5 -10,22.3 C-11.5,21 -12.8,19 -13,16.5 C-13.2,13.5 -11.5,11 -10,7.5 C-8.5,3 -5,0 0,0 Z" fill="#373737" stroke="#242424" stroke-width="0.7"/>
<ellipse cx="-7.4" cy="15.6" rx="3.6" ry="4.2" fill="#3d3d3d"/><ellipse cx="7.3" cy="15.4" rx="3.6" ry="4.2" fill="#3d3d3d"/>
<circle cx="-3.4" cy="24.2" r="0.8" fill="#1a1a1a"/><circle cx="3.2" cy="24.2" r="0.8" fill="#1a1a1a"/>
<path d="M-6,26 L-10.5,24.3 M-6,27 L-11,28 M-5.5,28 L-9,31.5 M6,26 L10.5,24.3 M6,27 L11,28 M5.5,28 L9,31.5" stroke="#b5b5b5" stroke-width="0.5"/>
</g>
<text x="303.10" y="534.70" font-size="8.2" text-anchor="start" fill="#3a3a3a" font-weight="normal" textLength="28.1" lengthAdjust="spacingAndGlyphs">KaLwRij</text>
<line x1="337.70" y1="510.00" x2="385.40" y2="510.00" stroke="#222" stroke-width="1.1"/>
<circle cx="337.70" cy="510.00" r="2.90" fill="#111" stroke="none" stroke-width="1.0"/>
<circle cx="385.40" cy="510.00" r="2.90" fill="#111" stroke="none" stroke-width="1.0"/>
<text x="336.30" y="523.00" font-size="8.2" text-anchor="start" fill="#3a3a3a" font-weight="normal" textLength="3.9" lengthAdjust="spacingAndGlyphs">0</text>
<text x="355.00" y="523.00" font-size="8.2" text-anchor="start" fill="#3a3a3a" font-weight="normal" textLength="8.3" lengthAdjust="spacingAndGlyphs">34</text>
<text x="378.70" y="523.00" font-size="8.2" text-anchor="start" fill="#3a3a3a" font-weight="normal" textLength="13.4" lengthAdjust="spacingAndGlyphs">35d</text>
<text x="349.80" y="489.90" font-size="8.2" text-anchor="start" fill="#3a3a3a" font-weight="normal" textLength="21.2" lengthAdjust="spacingAndGlyphs">H-151</text>
<line x1="361.30" y1="494.00" x2="361.30" y2="503.50" stroke="#222" stroke-width="1.0"/>
<path d="M358.1,499.4 L361.3,506.0 L364.5,499.4 L361.3,501.0 Z" fill="#222"/>
<path d="M359,537 L359,529 M385.6,537 L385.6,529 M359,537 L385.6,537 M372.3,537 L372.3,542" fill="none" stroke="#222" stroke-width="1.1"/>
<path d="M355.8,532.2 L359,525.4 L362.2,532.2 L359,530.6 Z M382.4,532.2 L385.6,525.4 L388.8,532.2 L385.6,530.6 Z" fill="#222"/>
<text x="362.20" y="551.70" font-size="8.2" text-anchor="start" fill="#3a3a3a" font-weight="normal" textLength="20.5" lengthAdjust="spacingAndGlyphs">Bleed</text>
<line x1="464.00" y1="545.57" x2="493.30" y2="477.35" stroke="#333" stroke-width="0.8"/>
<line x1="464.00" y1="547.64" x2="493.30" y2="491.17" stroke="#333" stroke-width="0.8"/>
<line x1="464.00" y1="550.23" x2="493.30" y2="493.76" stroke="#333" stroke-width="0.8"/>
<line x1="464.00" y1="552.99" x2="493.30" y2="503.26" stroke="#333" stroke-width="0.8"/>
<line x1="464.00" y1="557.66" x2="493.30" y2="506.71" stroke="#333" stroke-width="0.8"/>
<line x1="464.00" y1="555.41" x2="493.30" y2="538.14" stroke="#333" stroke-width="0.8"/>
<line x1="464.00" y1="560.25" x2="493.30" y2="552.99" stroke="#333" stroke-width="0.8"/>
<line x1="464.00" y1="562.84" x2="493.30" y2="560.94" stroke="#333" stroke-width="0.8"/>
<line x1="464.00" y1="563.70" x2="493.30" y2="563.35" stroke="#333" stroke-width="0.8"/>
<circle cx="493.30" cy="477.35" r="2.20" fill="#fbe7a6" stroke="#f1c84a" stroke-width="1.0"/>
<circle cx="493.30" cy="491.17" r="2.20" fill="#fbe7a6" stroke="#f1c84a" stroke-width="1.0"/>
<circle cx="493.30" cy="493.76" r="2.20" fill="#fbe7a6" stroke="#f1c84a" stroke-width="1.0"/>
<circle cx="493.30" cy="503.26" r="2.20" fill="#fbe7a6" stroke="#f1c84a" stroke-width="1.0"/>
<circle cx="493.30" cy="506.71" r="2.20" fill="#fbe7a6" stroke="#f1c84a" stroke-width="1.0"/>
<circle cx="493.30" cy="538.14" r="2.20" fill="#fbe7a6" stroke="#f1c84a" stroke-width="1.0"/>
<circle cx="493.30" cy="552.99" r="2.20" fill="#fbe7a6" stroke="#f1c84a" stroke-width="1.0"/>
<circle cx="493.30" cy="560.94" r="2.20" fill="#fbe7a6" stroke="#f1c84a" stroke-width="1.0"/>
<circle cx="493.30" cy="563.35" r="2.20" fill="#fbe7a6" stroke="#f1c84a" stroke-width="1.0"/>
<circle cx="464.00" cy="545.57" r="2.00" fill="#dfe8f2" stroke="#1f4a78" stroke-width="1.1"/>
<circle cx="464.00" cy="547.64" r="2.00" fill="#dfe8f2" stroke="#1f4a78" stroke-width="1.1"/>
<circle cx="464.00" cy="550.23" r="2.00" fill="#dfe8f2" stroke="#1f4a78" stroke-width="1.1"/>
<circle cx="464.00" cy="552.99" r="2.00" fill="#dfe8f2" stroke="#1f4a78" stroke-width="1.1"/>
<circle cx="464.00" cy="557.66" r="2.00" fill="#dfe8f2" stroke="#1f4a78" stroke-width="1.1"/>
<circle cx="464.00" cy="555.41" r="2.00" fill="#dfe8f2" stroke="#1f4a78" stroke-width="1.1"/>
<circle cx="464.00" cy="560.25" r="2.00" fill="#dfe8f2" stroke="#1f4a78" stroke-width="1.1"/>
<circle cx="464.00" cy="562.84" r="2.00" fill="#dfe8f2" stroke="#1f4a78" stroke-width="1.1"/>
<circle cx="464.00" cy="563.70" r="2.00" fill="#dfe8f2" stroke="#1f4a78" stroke-width="1.1"/>
<line x1="444.40" y1="458.00" x2="444.40" y2="564.30" stroke="#333" stroke-width="1.3"/>
<line x1="443.80" y1="563.70" x2="512.80" y2="563.70" stroke="#333" stroke-width="1.3"/>
<line x1="441.60" y1="563.70" x2="444.40" y2="563.70" stroke="#333" stroke-width="1.0"/>
<text x="438.20" y="566.90" font-size="9.0" text-anchor="end" fill="#3a3a3a" font-weight="normal">0</text>
<line x1="441.60" y1="529.16" x2="444.40" y2="529.16" stroke="#333" stroke-width="1.0"/>
<text x="438.20" y="532.36" font-size="9.0" text-anchor="end" fill="#3a3a3a" font-weight="normal">2</text>
<line x1="441.60" y1="494.62" x2="444.40" y2="494.62" stroke="#333" stroke-width="1.0"/>
<text x="438.20" y="497.82" font-size="9.0" text-anchor="end" fill="#3a3a3a" font-weight="normal">4</text>
<line x1="441.60" y1="460.08" x2="444.40" y2="460.08" stroke="#333" stroke-width="1.0"/>
<text x="438.20" y="463.28" font-size="9.0" text-anchor="end" fill="#3a3a3a" font-weight="normal">6</text>
<line x1="493.30" y1="563.70" x2="493.30" y2="566.50" stroke="#333" stroke-width="1.0"/>
<line x1="464.00" y1="563.70" x2="464.00" y2="566.50" stroke="#333" stroke-width="1.0"/>
<line x1="463.80" y1="464.80" x2="494.20" y2="464.80" stroke="#444" stroke-width="1.1"/>
<circle cx="477.00" cy="460.60" r="1.15" fill="#262626" stroke="none" stroke-width="1.0"/>
<circle cx="481.00" cy="460.60" r="1.15" fill="#262626" stroke="none" stroke-width="1.0"/>
<text x="451.90" y="577.30" font-size="8.2" text-anchor="start" fill="#3a3a3a" font-weight="normal" textLength="23.5" lengthAdjust="spacingAndGlyphs">Before</text>
<text x="452.70" y="586.40" font-size="8.2" text-anchor="start" fill="#3a3a3a" font-weight="normal" textLength="21.7" lengthAdjust="spacingAndGlyphs">H-151</text>
<text x="484.00" y="577.30" font-size="8.2" text-anchor="start" fill="#3a3a3a" font-weight="normal" textLength="17.9" lengthAdjust="spacingAndGlyphs">After</text>
<text x="482.70" y="586.40" font-size="8.2" text-anchor="start" fill="#3a3a3a" font-weight="normal" textLength="21.1" lengthAdjust="spacingAndGlyphs">H-151</text>
<text x="0" y="0" font-size="9.2" text-anchor="middle" fill="#3a3a3a" textLength="45.0" lengthAdjust="spacingAndGlyphs" transform="translate(415.80,510.80) rotate(-90)">Frequency of</text>
<text x="0" y="0" font-size="8.2" fill="#3a3a3a" transform="translate(427.6,539.1) rotate(-90)"><tspan font-size="9.2" textLength="35.8" lengthAdjust="spacingAndGlyphs">BM 5TGM1</tspan><tspan font-size="6.8" dy="-2.4" dx="0.3" textLength="21.6" lengthAdjust="spacingAndGlyphs">(GFP+)</tspan></text>
<rect x="0" y="0" width="520" height="1" fill="#222"/><rect x="0" y="636" width="520" height="1" fill="#222"/><rect x="0" y="0" width="1" height="637" fill="#222"/><rect x="519" y="0" width="1" height="637" fill="#222"/>
</svg>
</body></html>
